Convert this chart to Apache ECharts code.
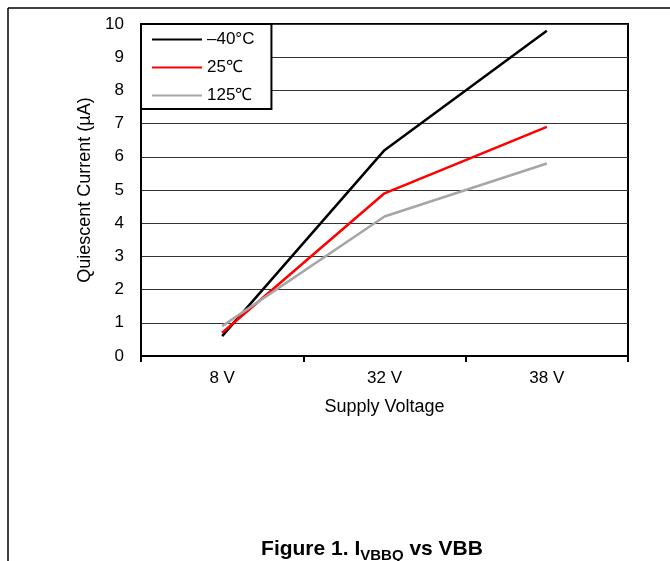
<!DOCTYPE html>
<html><head><meta charset="utf-8">
<script src="https://cdn.jsdelivr.net/npm/echarts@6/dist/echarts.min.js"></script>
<style>html,body{margin:0;padding:0;background:#fff}#c{width:670px;height:561px}</style>
</head><body><div id="c"></div>
<script>
const categories = ['8 V', '32 V', '38 V'];
const seriesNames = ['\u201340\u00b0C', '25\u2103', '125\u2103'];
const valsMinus40 = [0.6, 6.2, 9.8];
const vals25 = [0.7, 4.9, 6.9];
const vals125 = [0.9, 4.2, 5.8];
const colors = ['#000000', '#ff0000', '#a6a6a6'];

const chart = echarts.init(document.getElementById('c'));
const font = 'Liberation Sans, Arial, sans-serif';
chart.setOption({
  animation: false,
  backgroundColor: '#fff',
  grid: {left: 141, right: 42, top: 24, bottom: 205, show: true, borderColor: '#000', borderWidth: 2, containLabel: false},
  title: {
    text: '{a|Figure 1. I}{s|VBBQ}{a| vs VBB}',
    left: 367, top: 532, textAlign: 'center',
    textStyle: {rich: {
      a: {fontFamily: font, fontSize: 21, fontWeight: 'bold', color: '#000', verticalAlign: 'bottom', lineHeight: 23},
      s: {fontFamily: font, fontSize: 15, fontWeight: 'bold', color: '#000', verticalAlign: 'bottom', lineHeight: 17, padding: [0,0,-3,0]}
    }}
  },
  legend: {
    orient: 'vertical', left: 141, top: 24,
    itemWidth: 50, itemHeight: 2, itemGap: 11,
    padding: [7, 17, 5, 11],
    borderColor: '#000', borderWidth: 2, backgroundColor: '#fff',
    icon: 'rect',
    textStyle: {fontFamily: font, fontSize: 17, lineHeight: 16, color: '#000'},
    data: seriesNames
  },
  xAxis: {
    type: 'category', data: categories, boundaryGap: true,
    name: 'Supply Voltage', nameLocation: 'middle', nameGap: 42,
    nameTextStyle: {fontFamily: font, fontSize: 18, color: '#000'},
    axisLine: {lineStyle: {color: '#000', width: 2}},
    axisTick: {show: true, length: 6, lineStyle: {color: '#000', width: 2}},
    axisLabel: {fontFamily: font, fontSize: 17, color: '#000', margin: 14},
    splitLine: {show: false}
  },
  yAxis: {
    type: 'value', min: 0, max: 10, interval: 1,
    name: 'Quiescent Current (\u00b5A)', nameLocation: 'middle', nameGap: 46,
    nameTextStyle: {fontFamily: font, fontSize: 18, color: '#000'},
    axisLine: {show: true, lineStyle: {color: '#000', width: 2}},
    axisTick: {show: false},
    axisLabel: {fontFamily: font, fontSize: 17, color: '#000', margin: 17},
    splitLine: {show: true, lineStyle: {color: '#333', width: 1}}
  },
  series: [
    {name: seriesNames[0], type: 'line', data: valsMinus40, symbol: 'none', lineStyle: {color: colors[0], width: 2.5}, itemStyle: {color: colors[0]}},
    {name: seriesNames[1], type: 'line', data: vals25, symbol: 'none', lineStyle: {color: colors[1], width: 2.5}, itemStyle: {color: colors[1]}},
    {name: seriesNames[2], type: 'line', data: vals125, symbol: 'none', lineStyle: {color: colors[2], width: 2.5}, itemStyle: {color: colors[2]}}
  ],
  graphic: [
    {type: 'line', shape: {x1: 8, y1: 8, x2: 670, y2: 8}, style: {stroke: '#000', lineWidth: 1.5}},
    {type: 'line', shape: {x1: 8, y1: 8, x2: 8, y2: 561}, style: {stroke: '#000', lineWidth: 1.5}}
  ]
});
</script></body></html>
